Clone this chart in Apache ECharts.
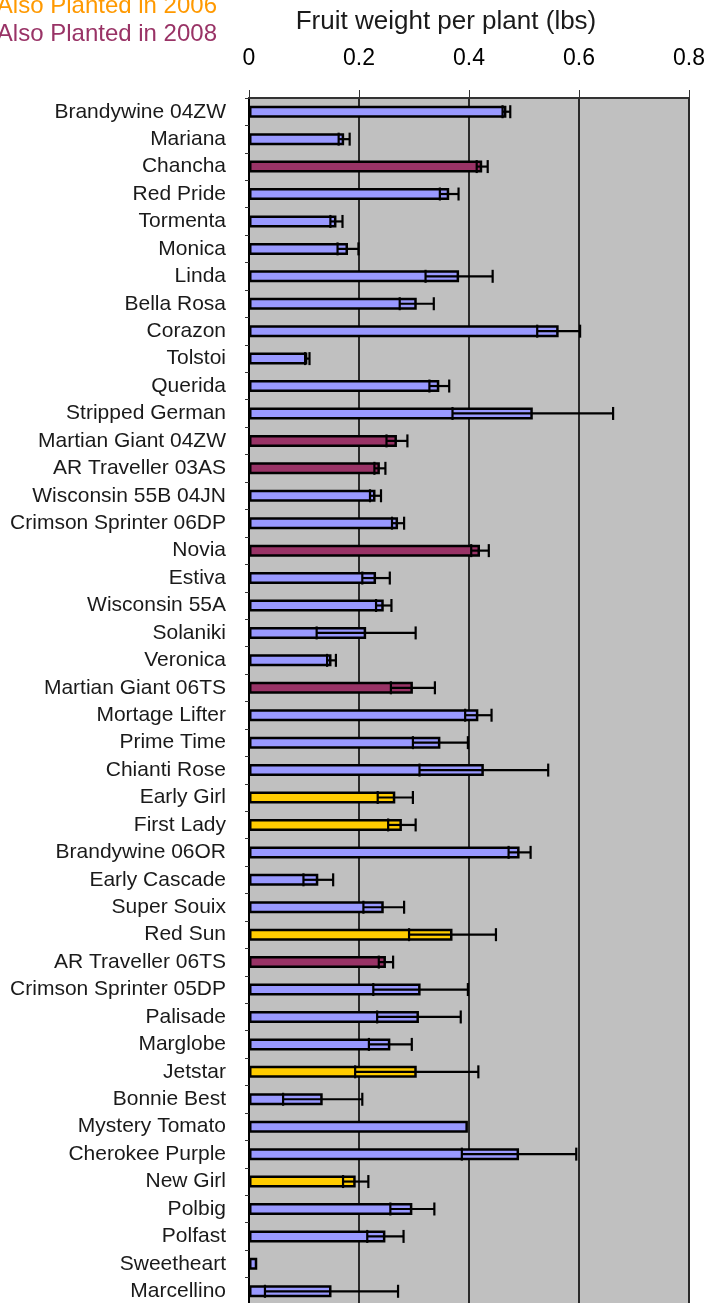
<!DOCTYPE html>
<html>
<head>
<meta charset="utf-8">
<title>Fruit weight per plant</title>
<script src="https://cdn.jsdelivr.net/npm/echarts@6/dist/echarts.min.js"></script>
<style>
  html, body { margin: 0; padding: 0; background: #ffffff; overflow: hidden; }
  #chart { width: 710px; height: 1310px; }
</style>
</head>
<body>
<div id="chart"></div>
<script>
// Tomato varieties, top to bottom
const categories = [
  'Brandywine 04ZW', 'Mariana', 'Chancha', 'Red Pride', 'Tormenta', 'Monica',
  'Linda', 'Bella Rosa', 'Corazon', 'Tolstoi', 'Querida', 'Stripped German',
  'Martian Giant 04ZW', 'AR Traveller 03AS', 'Wisconsin 55B 04JN',
  'Crimson Sprinter 06DP', 'Novia', 'Estiva', 'Wisconsin 55A', 'Solaniki',
  'Veronica', 'Martian Giant 06TS', 'Mortage Lifter', 'Prime Time',
  'Chianti Rose', 'Early Girl', 'First Lady', 'Brandywine 06OR',
  'Early Cascade', 'Super Souix', 'Red Sun', 'AR Traveller 06TS',
  'Crimson Sprinter 05DP', 'Palisade', 'Marglobe', 'Jetstar', 'Bonnie Best',
  'Mystery Tomato', 'Cherokee Purple', 'New Girl', 'Polbig', 'Polfast',
  'Sweetheart', 'Marcellino'
];

// Mean fruit weight per plant (lbs)
const fruitWeight = [
  0.468, 0.173, 0.424, 0.364, 0.159, 0.180,
  0.382, 0.305, 0.563, 0.106, 0.346, 0.516,
  0.269, 0.238, 0.230,
  0.271, 0.420, 0.231, 0.245, 0.213,
  0.150, 0.298, 0.417, 0.348,
  0.427, 0.266, 0.278, 0.492,
  0.126, 0.245, 0.370, 0.249,
  0.312, 0.309, 0.257, 0.305, 0.134,
  0.398, 0.491, 0.194, 0.297, 0.248,
  0.015, 0.150
];

// Standard error of the mean (lbs)
const stdError = [
  0.007, 0.010, 0.010, 0.017, 0.011, 0.019,
  0.061, 0.031, 0.039, 0.004, 0.018, 0.146,
  0.019, 0.010, 0.010,
  0.011, 0.016, 0.025, 0.014, 0.090,
  0.008, 0.040, 0.024, 0.050,
  0.117, 0.032, 0.025, 0.020,
  0.027, 0.037, 0.079, 0.013,
  0.086, 0.076, 0.039, 0.112, 0.072,
  0.000, 0.104, 0.023, 0.040, 0.033,
  0.000, 0.121
];

// Earlier planting year shared by the variety ('' = none)
const alsoPlanted = [
  '', '', '2008', '', '', '',
  '', '', '', '', '', '',
  '2008', '2008', '',
  '', '2008', '', '', '',
  '', '2008', '', '',
  '', '2006', '2006', '',
  '', '', '2006', '2008',
  '', '', '', '2006', '',
  '', '', '2006', '', '',
  '', ''
];

// Legend entries
const legendYears = ['2006', '2008'];
const legendLabels = ['Also Planted in 2006', 'Also Planted in 2008'];

const xTicks = { min: 0, max: 0.8, step: 0.2 };
const axisTitle = 'Fruit weight per plant (lbs)';

const barColors = { '': '#9999FF', '2006': '#FFCC00', '2008': '#993366' };
const legendColors = { '2006': '#FF9900', '2008': '#993366' };

const barData = fruitWeight.map((v, i) => ({
  value: v,
  itemStyle: { color: barColors[alsoPlanted[i]] }
}));

const errorData = fruitWeight.map((v, i) => [v - stdError[i], v + stdError[i], i, stdError[i]]);

// Horizontal error bar with end caps, drawn over the bar
function renderErrorBar(params, api) {
  if (api.value(3) <= 0) return null;
  const lo = api.coord([api.value(0), api.value(2)]);
  const hi = api.coord([api.value(1), api.value(2)]);
  const half = 6.5;
  const style = { stroke: '#000000', lineWidth: 2.2 };
  return {
    type: 'group',
    children: [
      { type: 'line', shape: { x1: lo[0], y1: lo[1], x2: hi[0], y2: hi[1] }, style: style },
      { type: 'line', shape: { x1: lo[0], y1: lo[1] - half, x2: lo[0], y2: lo[1] + half }, style: style },
      { type: 'line', shape: { x1: hi[0], y1: hi[1] - half, x2: hi[0], y2: hi[1] + half }, style: style }
    ]
  };
}

const legendGraphics = legendLabels.map((label, i) => ({
  type: 'text',
  x: 217,
  y: 6 + i * 28,
  z: 10,
  style: {
    text: label,
    fill: legendColors[legendYears[i]],
    font: '24px "Liberation Sans", Arial, sans-serif',
    textAlign: 'right',
    textVerticalAlign: 'middle'
  }
}));

const chart = echarts.init(document.getElementById('chart'), null, { renderer: 'canvas' });

chart.setOption({
  animation: false,
  backgroundColor: '#ffffff',
  grid: {
    left: 249,
    top: 98,
    width: 440,
    height: 1207,
    show: true,
    backgroundColor: '#C0C0C0',
    borderWidth: 0,
    containLabel: false
  },
  xAxis: {
    type: 'value',
    position: 'top',
    min: xTicks.min,
    max: xTicks.max,
    interval: xTicks.step,
    axisLine: { show: true, lineStyle: { color: '#333333', width: 2 } },
    axisTick: { show: true, inside: false, length: 8, lineStyle: { color: '#333333', width: 1 } },
    axisLabel: {
      margin: 28,
      fontSize: 23,
      color: '#000000',
      fontFamily: '"Liberation Sans", Arial, sans-serif',
      formatter: v => String(Math.round(v * 10) / 10)
    },
    splitLine: { show: true, lineStyle: { color: '#2a2a2a', width: 2 } }
  },
  yAxis: {
    type: 'category',
    inverse: true,
    data: categories,
    axisLine: { show: true, lineStyle: { color: '#000000', width: 2 } },
    axisTick: { show: true, length: 4, alignWithLabel: false, lineStyle: { color: '#333333', width: 1 } },
    axisLabel: {
      margin: 23,
      fontSize: 21,
      color: '#1a1a1a',
      fontFamily: '"Liberation Sans", Arial, sans-serif',
      interval: 0
    },
    splitLine: { show: false }
  },
  graphic: [
    {
      type: 'text',
      x: 446,
      y: 22,
      style: {
        text: axisTitle,
        fill: '#1a1a1a',
        font: '26px "Liberation Sans", Arial, sans-serif',
        textAlign: 'center',
        textVerticalAlign: 'middle'
      }
    }
  ].concat(legendGraphics),
  series: [
    {
      type: 'bar',
      data: barData,
      barWidth: 12,
      itemStyle: { borderColor: '#000000', borderWidth: 2.5 },
      z: 2
    },
    {
      type: 'custom',
      data: errorData,
      encode: { x: [0, 1], y: 2 },
      renderItem: renderErrorBar,
      z: 3
    }
  ]
});
</script>
</body>
</html>
